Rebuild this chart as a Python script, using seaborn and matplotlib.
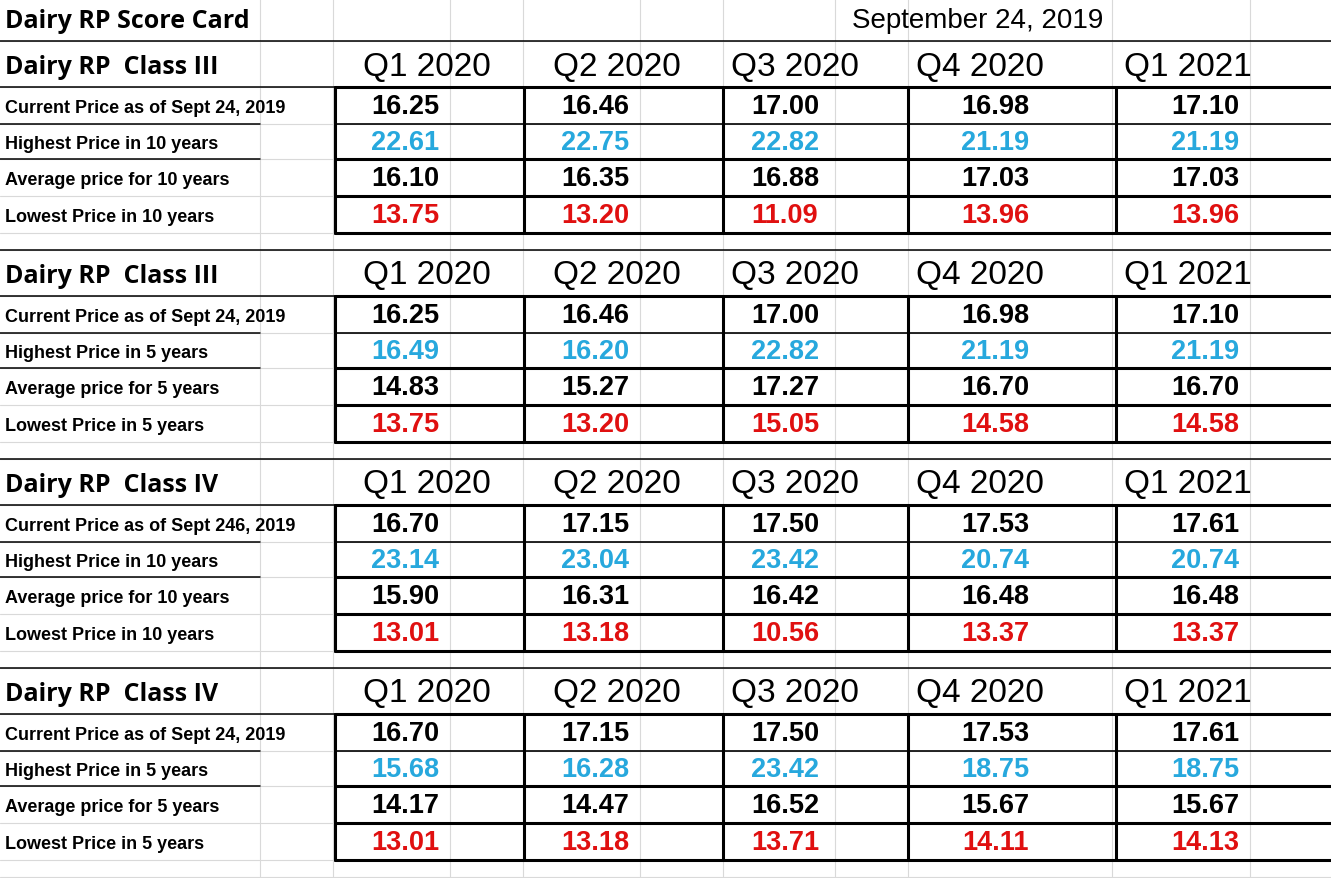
import matplotlib.pyplot as plt
import seaborn as sns

sns.set_theme(style="white")

title = "Dairy RP Score Card"
date_label = "September 24, 2019"
quarters = ["Q1 2020", "Q2 2020", "Q3 2020", "Q4 2020", "Q1 2021"]

section_titles = ["Dairy RP  Class III", "Dairy RP  Class III",
                  "Dairy RP  Class IV", "Dairy RP  Class IV"]
row_labels = [
    ["Current Price as of Sept 24, 2019", "Highest Price in 10 years",
     "Average price for 10 years", "Lowest Price in 10 years"],
    ["Current Price as of Sept 24, 2019", "Highest Price in 5 years",
     "Average price for 5 years", "Lowest Price in 5 years"],
    ["Current Price as of Sept 246, 2019", "Highest Price in 10 years",
     "Average price for 10 years", "Lowest Price in 10 years"],
    ["Current Price as of Sept 24, 2019", "Highest Price in 5 years",
     "Average price for 5 years", "Lowest Price in 5 years"],
]
current_3_10 = [16.25, 16.46, 17.00, 16.98, 17.10]
high_3_10 = [22.61, 22.75, 22.82, 21.19, 21.19]
avg_3_10 = [16.10, 16.35, 16.88, 17.03, 17.03]
low_3_10 = [13.75, 13.20, 11.09, 13.96, 13.96]

current_3_5 = [16.25, 16.46, 17.00, 16.98, 17.10]
high_3_5 = [16.49, 16.20, 22.82, 21.19, 21.19]
avg_3_5 = [14.83, 15.27, 17.27, 16.70, 16.70]
low_3_5 = [13.75, 13.20, 15.05, 14.58, 14.58]

current_4_10 = [16.70, 17.15, 17.50, 17.53, 17.61]
high_4_10 = [23.14, 23.04, 23.42, 20.74, 20.74]
avg_4_10 = [15.90, 16.31, 16.42, 16.48, 16.48]
low_4_10 = [13.01, 13.18, 10.56, 13.37, 13.37]

current_4_5 = [16.70, 17.15, 17.50, 17.53, 17.61]
high_4_5 = [15.68, 16.28, 23.42, 18.75, 18.75]
avg_4_5 = [14.17, 14.47, 16.52, 15.67, 15.67]
low_4_5 = [13.01, 13.18, 13.71, 14.11, 14.13]

sections = [
    [current_3_10, high_3_10, avg_3_10, low_3_10],
    [current_3_5, high_3_5, avg_3_5, low_3_5],
    [current_4_10, high_4_10, avg_4_10, low_4_10],
    [current_4_5, high_4_5, avg_4_5, low_4_5],
]
row_colors = ["black", "#27a8dd", "black", "#e01010"]

W, H = 1331, 879
fig = plt.figure(figsize=(W / 100, H / 100), dpi=100)
ax = fig.add_axes([0, 0, 1, 1])
ax.set_xlim(0, W)
ax.set_ylim(H, 0)
ax.axis("off")

grid = "#d9d9d9"
# light spreadsheet gridlines
for x in [260, 333, 450, 523, 640, 723, 835, 908, 1112, 1250]:
    ax.plot([x, x], [0, H], color=grid, lw=0.8, zorder=0)
pitch = 209
for k in range(5):
    y0 = 42 + k * pitch
    for y in [y0, y0 + 46, y0 + 83, y0 + 118, y0 + 155, y0 + 192]:
        if y < H:
            ax.plot([0, W], [y, y], color=grid, lw=0.8, zorder=0)

mono = "Liberation Sans"
col_edges = [335, 524, 723, 908, 1116, 1331]
q_x = [427, 617, 795, 980, 1188]
v_x = [405, 595, 785, 995, 1205]

ax.text(5, 22, title, fontsize=18, fontweight="bold", family="Open Sans",
        va="center", ha="left", color="black")
ax.text(978, 21, date_label, fontsize=20, family=mono, va="center",
        ha="center", color="black")

for s in range(4):
    top = 42 + s * pitch
    ax.plot([0, W], [top, top], color="black", lw=1.1)
    ax.text(5, top + 26, section_titles[s], fontsize=18, fontweight="bold",
            family="Open Sans", va="center", ha="left", color="black")
    for q, x in zip(quarters, q_x):
        ax.text(x, top + 25, q, fontsize=24, family=mono, va="center",
                ha="center", color="black")
    rows = [top + 46, top + 83, top + 118, top + 155, top + 192]
    ax.plot([0, W], [rows[0], rows[0]], color="black", lw=1.1)
    ax.plot([0, 260], [rows[1], rows[1]], color="black", lw=1.1)
    ax.plot([0, 260], [rows[2], rows[2]], color="black", lw=1.1)
    # box around values
    for i, y in enumerate(rows):
        ax.plot([col_edges[0], W], [y, y], color="black",
                lw=1.2 if i == 1 else 2.2)
    for x in col_edges[:-1]:
        ax.plot([x, x], [rows[0], rows[-1]], color="black", lw=2.2)
    for r in range(4):
        yc = (rows[r] + rows[r + 1]) / 2 + 2
        ax.text(5, yc, row_labels[s][r], fontsize=13, fontweight="bold",
                family=mono, va="center", ha="left", color="black")
        for v, x in zip(sections[s][r], v_x):
            ax.text(x, yc - 1, f"{v:.2f}", fontsize=19.5, fontweight="bold",
                    family=mono, va="center", ha="center", color=row_colors[r])

fig.savefig("out.png", dpi=100)
